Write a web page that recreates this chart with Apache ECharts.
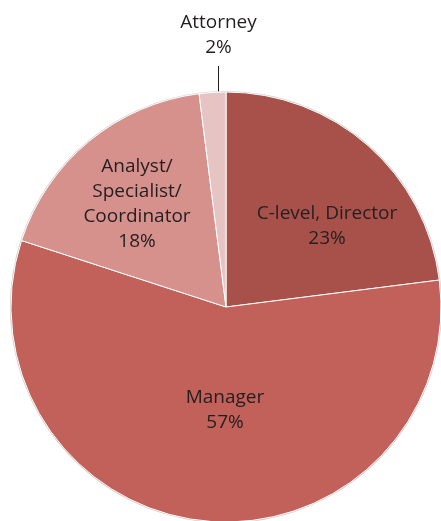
<!DOCTYPE html>
<html>
<head>
<meta charset="utf-8">
<script src="https://cdn.jsdelivr.net/npm/echarts@6/dist/echarts.min.js"></script>
<style>
  html, body { margin: 0; padding: 0; background: #fff; }
  #chart { width: 441px; height: 521px; }
</style>
</head>
<body>
<div id="chart"></div>
<script>
// slices, clockwise from 12 o'clock
const roles = ['C-level, Director', 'Manager', 'Analyst/\nSpecialist/\nCoordinator', 'Attorney'];
const shares = [23, 57, 18, 2];
const sliceColors = ['#a8514a', '#c2605a', '#d6918d', '#e6c4c3'];

// where each label sits (centre of the text block)
const labelSpots = [[327, 226], [225, 410], [137, 204], [218.5, 35]];

const center = [226, 307];
const radius = 215;

const chart = echarts.init(document.getElementById('chart'));

const pieData = roles.map((name, i) => {
  const outside = i === 3;
  return {
    name: name,
    value: shares[i],
    itemStyle: { color: sliceColors[i] },
    label: { position: outside ? 'outside' : 'inside' },
    labelLine: { show: outside, length: 26, length2: 0, lineStyle: { color: '#231f20', width: 1 } }
  };
});

const option = {
  animation: false,
  series: [
    {
      // faint grey rim round the pie
      type: 'pie',
      silent: true,
      center: center,
      radius: radius + 1,
      startAngle: 90,
      label: { show: false },
      labelLine: { show: false },
      itemStyle: { color: '#cccccc' },
      data: shares.map(v => ({ value: v }))
    },
    {
      type: 'pie',
      center: center,
      radius: radius,
      startAngle: 90,
      clockwise: true,
      avoidLabelOverlap: false,
      emphasis: { scale: false },
      itemStyle: { borderColor: '#ffffff', borderWidth: 1 },
      label: {
        show: true,
        formatter: '{b}\n{c}%',
        fontFamily: 'Open Sans',
        fontSize: 19,
        lineHeight: 25,
        color: '#231f20',
        align: 'center'
      },
      labelLayout: function (params) {
        const i = params.dataIndex;
        const p = labelSpots[i];
        if (i === 3) {
          return {
            x: p[0],
            y: p[1],
            align: 'center',
            verticalAlign: 'middle',
            labelLinePoints: [[p[0], 93], [p[0], 66], [p[0], 66]]
          };
        }
        return { x: p[0], y: p[1], align: 'center', verticalAlign: 'middle' };
      },
      data: pieData
    }
  ]
};

chart.setOption(option);
</script>
</body>
</html>
